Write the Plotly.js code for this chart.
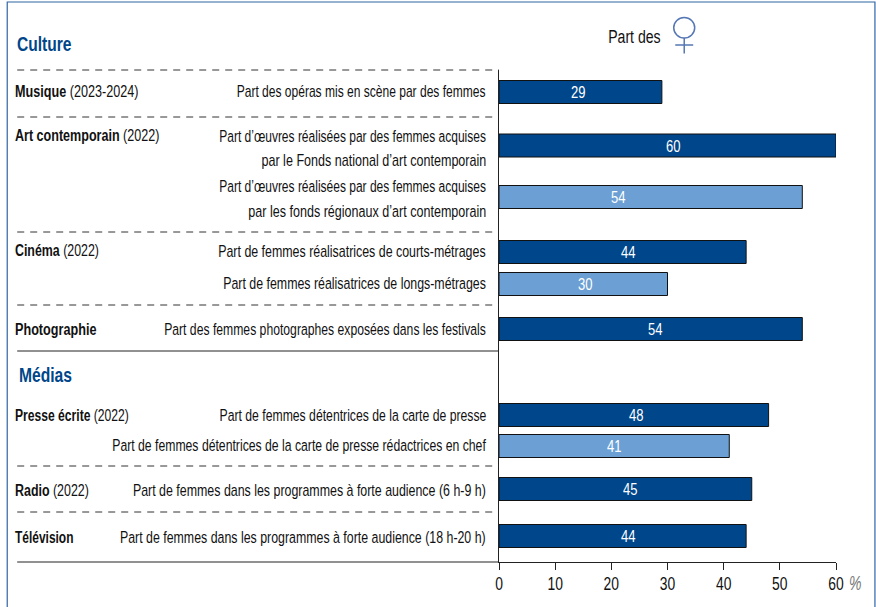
<!DOCTYPE html>
<html><head><meta charset="utf-8">
<script src="https://cdn.plot.ly/plotly-3.0.1.min.js"></script>
<style>html,body{margin:0;padding:0;background:#fff}</style></head>
<body><div id="chart" style="width:876px;height:607px"></div>
<script>
const barValues = [29, 60, 54, 44, 30, 54, 48, 41, 45, 44];
const barShades = ['d','d','l','d','l','d','d','l','d','d'];
// vertical axis runs in page pixels, so rows can be spaced unevenly like the reference
const barRows = [92, 145.5, 197, 252, 284, 329, 415, 446, 489, 536];
const valueLabelX = [578, 673, 618, 628, 585, 655, 636, 614, 630, 628];
const topLabels = ['Musique','Art contemporain','Cinéma','Photographie','Presse écrite','Radio','Télévision'];
const topYears = [' (2023-2024)',' (2022)',' (2022)','',' (2022)',' (2022)',''];
const topRows = [92, 135, 250, 329, 415, 490, 537];
const topWidths = [123.5, 144.5, 84, 81.5, 114, 74, 58.5];
const descLines = [
 'Part des opéras mis en scène par des femmes',
 'Part d’œuvres réalisées par des femmes acquises',
 'par le Fonds national d’art contemporain',
 'Part d’œuvres réalisées par des femmes acquises',
 'par les fonds régionaux d’art contemporain',
 'Part de femmes réalisatrices de courts-métrages',
 'Part de femmes réalisatrices de longs-métrages',
 'Part des femmes photographes exposées dans les festivals',
 'Part de femmes détentrices de la carte de presse',
 'Part de femmes détentrices de la carte de presse rédactrices en chef',
 'Part de femmes dans les programmes à forte audience (6 h-9 h)',
 'Part de femmes dans les programmes à forte audience (18 h-20 h)'];
const descRows = [92, 136, 160, 186.5, 211, 252, 283.5, 329, 415, 445, 490, 537];
const descWidths = [249, 267, 225, 267, 238, 267.5, 263, 322, 267, 374, 353, 366];
const dashedRows = [70, 117, 232, 305, 466, 512];
const solidRows = [351, 562];

const FONT = '"Liberation Sans",sans-serif';
const W = 876, L = 498.5, R = 836, T = 70, B = 562;
const px = x => (x - L) / (R - L);
const py = y => (B - y) / (B - T);
const shadeColor = {d:'#00468a', l:'#6c9fd3'};
const ink = '#111', frame = '#2f66a3', sym = '#5577b5';
const SQUEEZE = 0.73;

const annotations = [], targets = [];
const note = (x, y, text, anchor, size, color, target) => {
  targets.push(target);
  annotations.push({
    xref:'paper', yref:'paper', x:px(x), y:py(y), text, xanchor:anchor, yanchor:'middle', showarrow:false,
    align:anchor, font:{family:FONT, size, color}, borderpad:0, borderwidth:0});
};
topLabels.forEach((t,i)=>note(14, topRows[i], '<b>'+t+'</b>'+topYears[i], 'left', 17, ink, topWidths[i]));
descLines.forEach((t,i)=>note(485.5, descRows[i], t, 'right', 17, ink, descWidths[i]));
note(15.5, 44, '<b>Culture</b>', 'left', 20, '#00468a', 54.5);
note(17.5, 375, '<b>Médias</b>', 'left', 20, '#00468a', 53);
note(634.5, 36, 'Part des', 'center', 19, ink, 52.5);
note(849, 583, '<i>%</i>', 'left', 20, '#777', 12.5);
barValues.forEach((v,i)=>note(valueLabelX[i], barRows[i], String(v), 'center', 16.5, '#fff', 14.5));

const hline = (y, dash, color) => ({type:'line', xref:'paper', yref:'paper', x0:px(16), x1:px(498.5), y0:py(y), y1:py(y),
  line:{color, width:1, dash}});
const shapes = [
  ...dashedRows.map(y=>hline(y, '7px,6px', '#333')),
  ...solidRows.map(y=>hline(y, 'solid', '#222')),
  {type:'rect', xref:'paper', yref:'paper', x0:px(6), x1:px(875), y0:py(2), y1:py(640), line:{color:frame, width:1.2}},
  {type:'circle', xref:'paper', yref:'paper', x0:px(673.5), x1:px(694.5), y0:py(17.5), y1:py(38), line:{color:sym, width:1.5}},
  {type:'line', xref:'paper', yref:'paper', x0:px(684), x1:px(684), y0:py(38), y1:py(53.5), line:{color:sym, width:1.5}},
  {type:'line', xref:'paper', yref:'paper', x0:px(675), x1:px(693), y0:py(45), y1:py(45), line:{color:sym, width:1.5}}
];

Plotly.newPlot('chart', [{
  type:'bar', orientation:'h', x:barValues, y:barRows, width:23,
  marker:{color:barShades.map(s=>shadeColor[s]), line:{color:'#111', width:1}},
  hoverinfo:'skip'
}], {
  width:W, height:607, showlegend:false, paper_bgcolor:'#fff', plot_bgcolor:'#fff',
  margin:{l:L, r:W-R, t:T, b:607-B, pad:0},
  xaxis:{range:[0,60], dtick:10, tick0:0, ticks:'outside', ticklen:7, tickwidth:1, tickcolor:'#222',
    ticklabelstandoff:-3,
    showgrid:false, zeroline:false, showline:true, linecolor:'#222', linewidth:1,
    tickfont:{family:FONT, size:19, color:ink}},
  yaxis:{range:[B,T], showticklabels:false, ticks:'', showgrid:false, zeroline:false,
    showline:true, linecolor:'#222', linewidth:1},
  annotations, shapes
}, {displayModeBar:false, staticPlot:true}).then(gd=>{
  // No condensed face is installed: narrow the real text horizontally around its anchor.
  const narrow = (el, mode, s) => {
    const b = el.getBBox();
    const a = mode==='left' ? b.x : mode==='right' ? b.x+b.width : b.x+b.width/2;
    const old = el.getAttribute('transform') || '';
    el.setAttribute('transform', `${old} translate(${a},0) scale(${s},1) translate(${-a},0)`);
  };
  gd.querySelectorAll('g.annotation').forEach(g=>{
    const i = +g.getAttribute('data-index');
    const t = g.querySelector('text');
    if (t) narrow(t, annotations[i].xanchor, targets[i] / t.getBBox().width);
  });
  gd.querySelectorAll('.xtick text').forEach(t=>narrow(t,'center',SQUEEZE));
});
</script></body></html>
